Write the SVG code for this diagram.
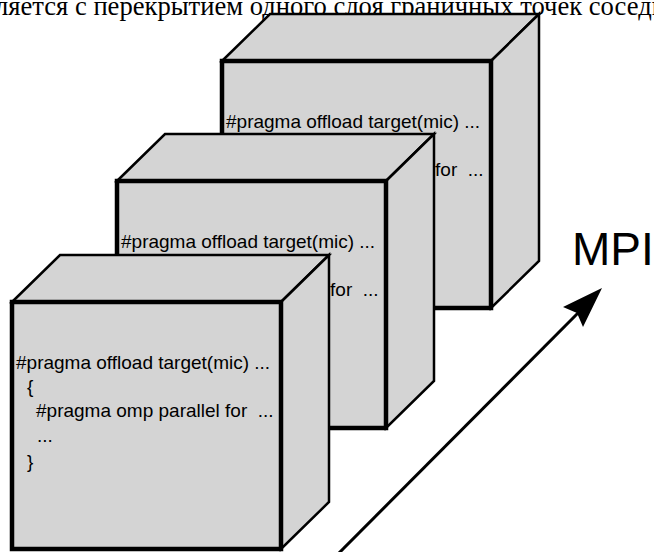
<svg xmlns="http://www.w3.org/2000/svg" width="654" height="552" viewBox="0 0 654 552">
<style>
.face{fill:#d4d4d4;stroke:#000;stroke-width:2.5;stroke-linejoin:miter}
.front{fill:#d4d4d4;stroke:#000;stroke-width:4.5}
.code{font-family:"Liberation Sans",Arial,sans-serif;font-size:19px;fill:#000;white-space:pre}
.cap{font-family:"Liberation Serif","Times New Roman",serif;font-size:26.6px;fill:#000}
.mpi{font-family:"Liberation Sans",Arial,sans-serif;font-size:46px;fill:#000}
</style>
<defs>
<g id="cube">
<polygon class="face" points="0,0 48,-47 317,-47 269,0"/>
<polygon class="face" points="269,0 317,-47 317,200 269,247"/>
<rect class="front" x="0" y="0" width="269" height="247"/>
<text class="code" x="4" y="67">#pragma offload target(mic) ...</text>
<text class="code" x="15" y="91">{</text>
<text class="code" x="24" y="115" xml:space="preserve">#pragma omp parallel for  ...</text>
<text class="code" x="25" y="140">...</text>
<text class="code" x="15" y="166">}</text>
</g>
</defs>
<text class="cap" x="-5" y="15">ляется с перекрытием одного слоя граничных точек соседн</text>
<g id="node-back" transform="translate(222,61)"><use href="#cube"/></g>
<g id="node-middle" transform="translate(117,181)"><use href="#cube"/></g>
<g id="node-front" transform="translate(12,302)"><use href="#cube"/></g>
<g id="connectors">
<line x1="338" y1="554" x2="580" y2="311" stroke="#000" stroke-width="3"/>
<polygon points="602,288 563,307 577,313 583,327" fill="#000"/>
</g>
<text class="mpi" x="572" y="265">MPI</text>
</svg>
